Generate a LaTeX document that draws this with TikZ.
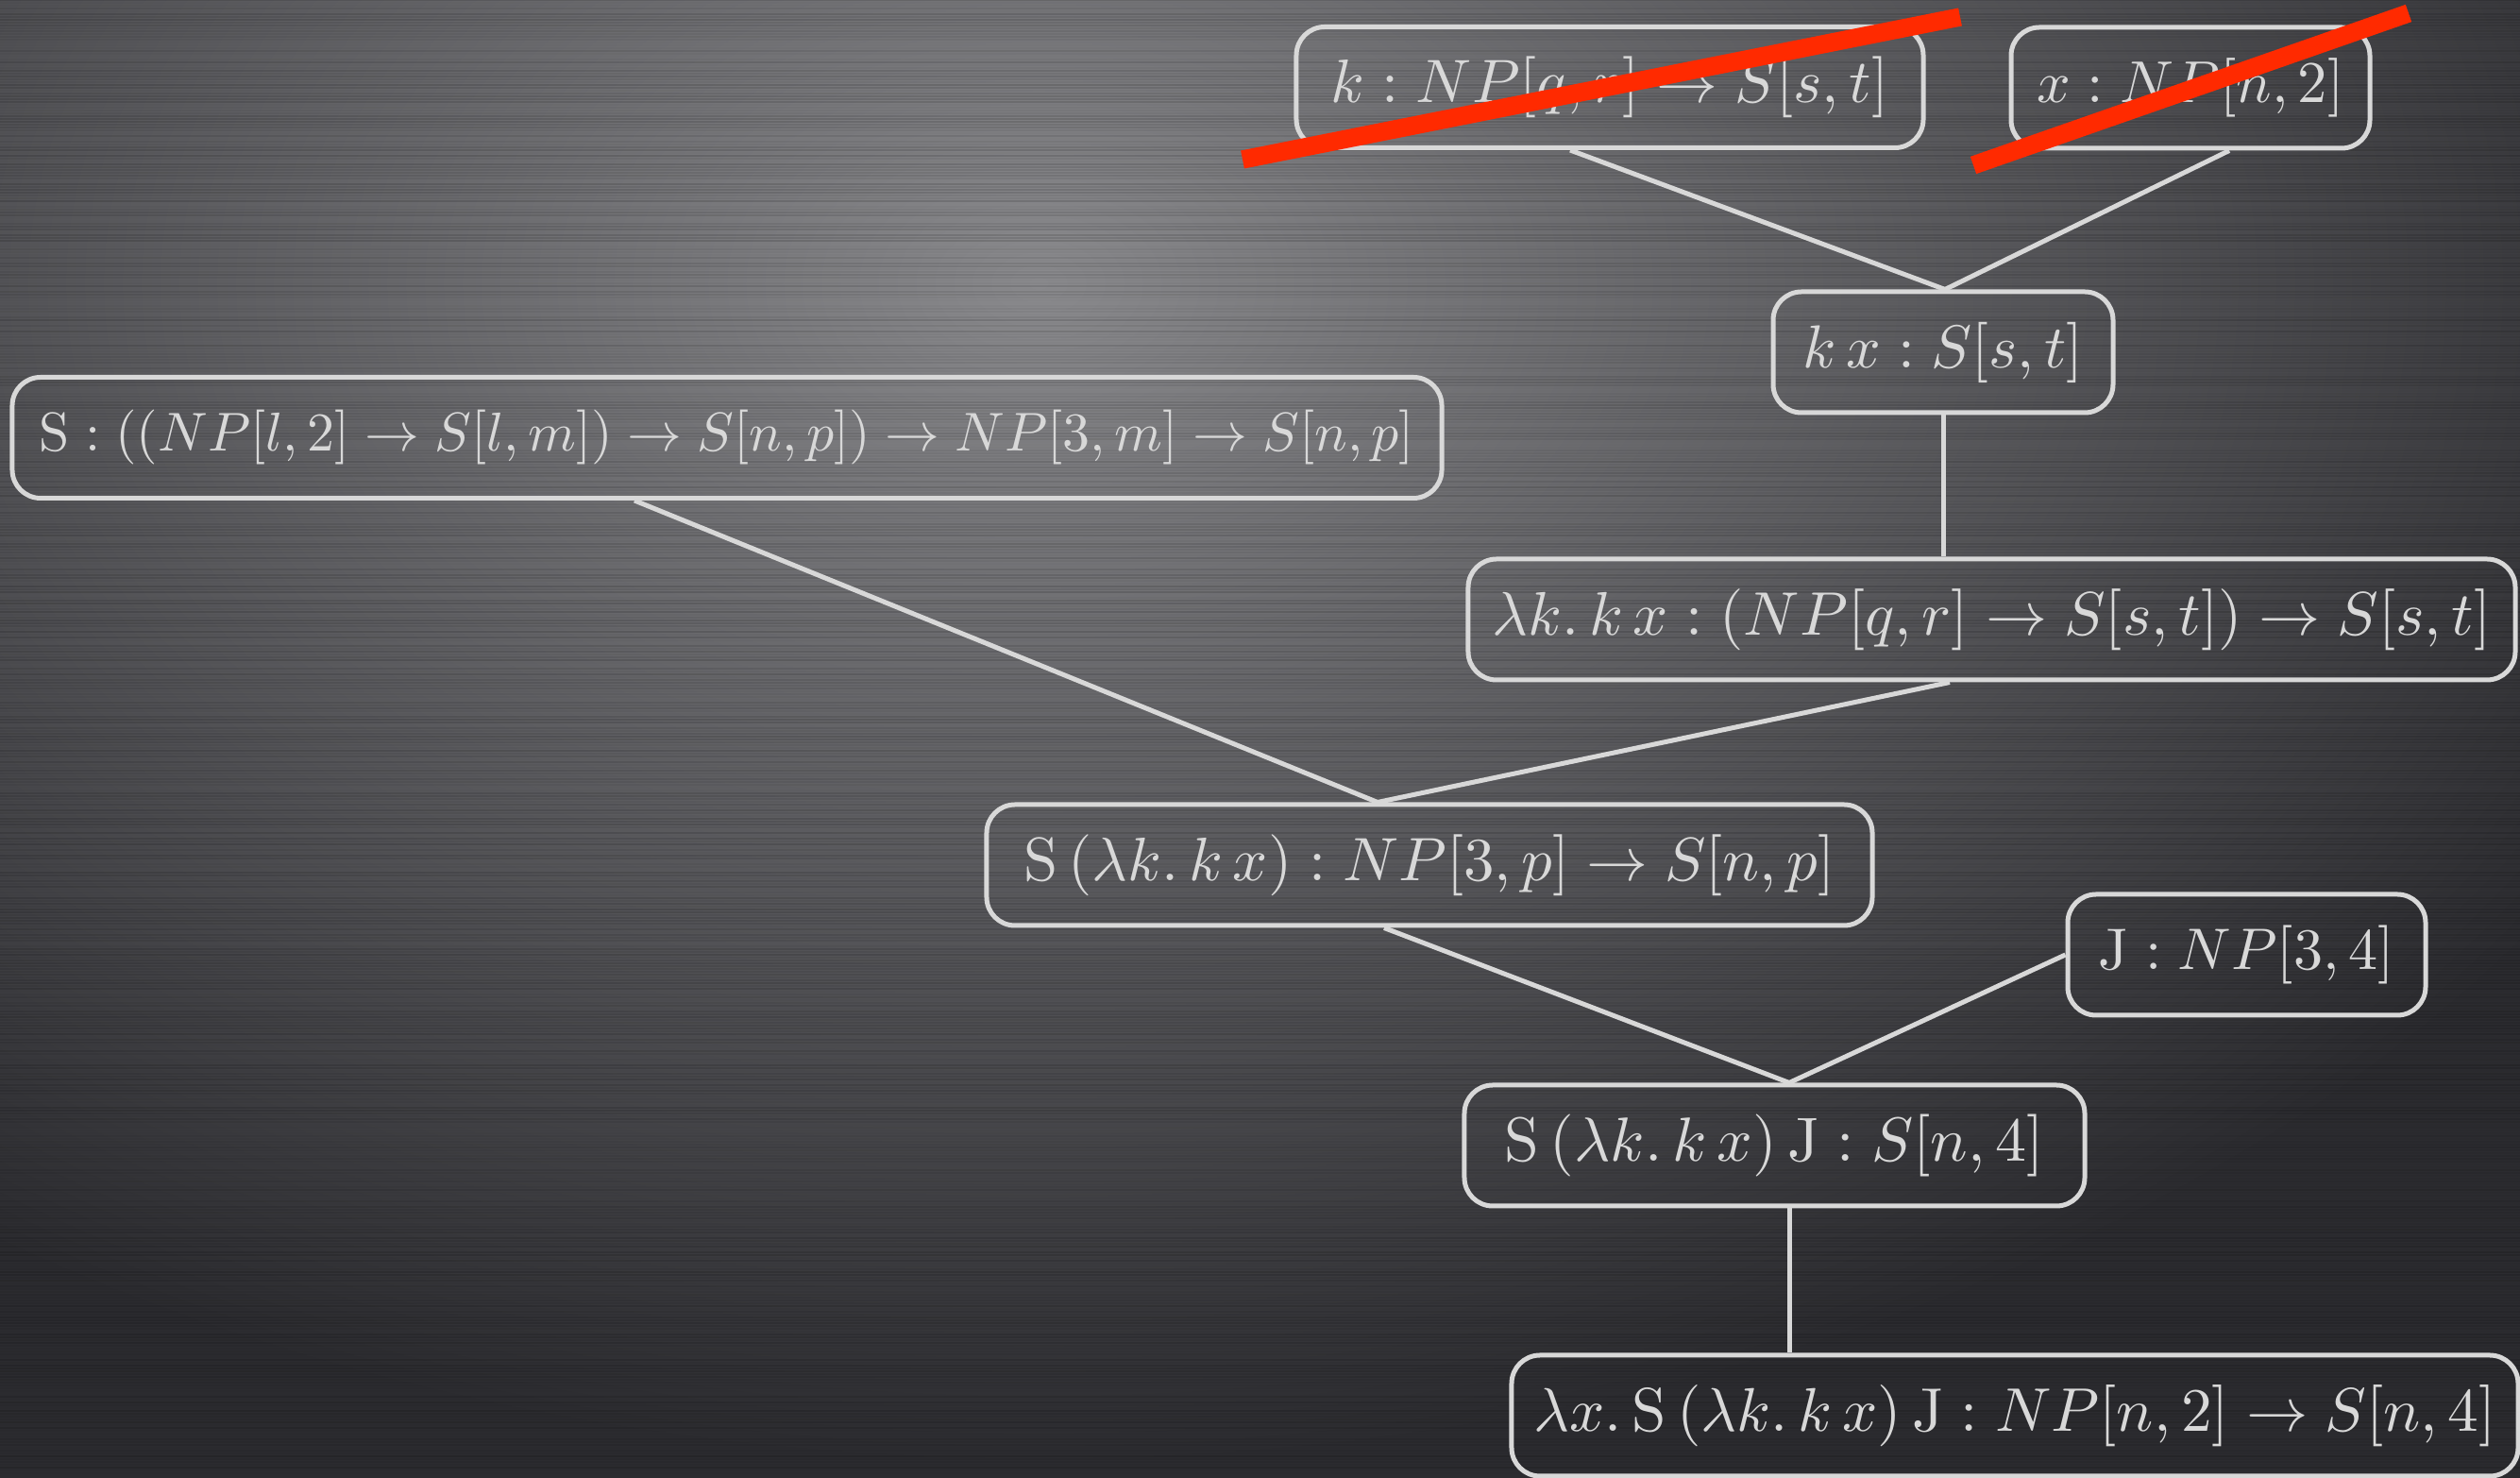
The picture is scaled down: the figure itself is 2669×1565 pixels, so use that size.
\documentclass[tikz,border=0pt]{standalone}
\usetikzlibrary{calc}
\usepackage{graphicx}
\definecolor{bgdark}{HTML}{2B2B2F}
\definecolor{bglight}{HTML}{8A8A8D}
\definecolor{fg}{HTML}{D8D8D8}
\definecolor{strike}{HTML}{FF2A00}
\newcommand\fitmath[2]{\resizebox{#1}{!}{$#2$}}
\begin{document}
\begin{tikzpicture}[x=0.15pt,y=-0.15pt,
  box/.style={draw=fg, text=fg, line width=0.75pt, rounded corners=4.5pt,
    inner xsep=0pt, inner ysep=0pt, minimum height=19.2pt},
  link/.style={draw=fg, line width=0.75pt},
  strikeout/.style={draw=strike, line width=2.9pt}]
\useasboundingbox (0,0) rectangle (2669,1565);
\fill[bgdark] (0,0) rectangle (2669,1565);
\begin{scope}
  \clip (0,0) rectangle (2669,1565);
  \shade[inner color=bglight, outer color=bgdark] (1100,300) ellipse [x radius=1900, y radius=1250];
  \pgfmathsetseed{7}
  \foreach \i in {0,...,520} {
    \pgfmathsetmacro\o{rnd*0.14}
    \draw[black, opacity=\o, line width=0.3pt] (0,3*\i) -- (2669,3*\i);
  }
\end{scope}

\node[box, minimum width=99.6pt]  (k)   at (1705,92.5)  {\fitmath{88.5pt}{k : NP[q,r] \to S[s,t]}};
\node[box, minimum width=57pt]    (nx)  at (2320,93)    {\fitmath{48.75pt}{x : NP[n,2]}};
\node[box, minimum width=54pt]    (kx)  at (2058,373)   {\fitmath{44.55pt}{k\,x : S[s,t]}};
\node[box, minimum width=227.1pt] (S)   at (770,463.5)  {\fitmath{218.4pt}{\mathrm{S} : ((NP[l,2] \to S[l,m]) \to S[n,p]) \to NP[3,m] \to S[n,p]}};
\node[box, minimum width=166.35pt] (lk) at (2109.5,656) {\fitmath{158.7pt}{\lambda k.\, k\,x : (NP[q,r] \to S[s,t]) \to S[s,t]}};
\node[box, minimum width=140.7pt] (Slk) at (1514,916)   {\fitmath{128.85pt}{\mathrm{S}\,(\lambda k.\, k\,x) : NP[3,p] \to S[n,p]}};
\node[box, minimum width=56.85pt] (J)   at (2379.5,1011) {\fitmath{46.95pt}{\mathrm{J} : NP[3,4]}};
\node[box, minimum width=98.55pt] (SJ)  at (1879.5,1213) {\fitmath{85.65pt}{\mathrm{S}\,(\lambda k.\, k\,x)\,\mathrm{J} : S[n,4]}};
\node[box, minimum width=159.9pt] (lx)  at (2134,1499)  {\fitmath{152.85pt}{\lambda x.\, \mathrm{S}\,(\lambda k.\, k\,x)\,\mathrm{J} : NP[n,2] \to S[n,4]}};

\draw[link] ($(k.south)+(-42,0)$) -- ($(kx.north)+(2,0)$);
\draw[link] ($(nx.south)+(41,0)$) -- ($(kx.north)+(2,0)$);
\draw[link] (kx.south) -- (kx.south |- lk.north);
\draw[link] ($(S.south)+(-98,0)$) -- ($(Slk.north)+(-55,0)$);
\draw[link] ($(lk.south)+(-44.5,0)$) -- ($(Slk.north)+(-55,0)$);
\draw[link] ($(Slk.south)+(-48,0)$) -- ($(SJ.north)+(15.5,0)$);
\draw[link] (J.west) -- ($(SJ.north)+(15.5,0)$);
\draw[link] ($(SJ.south)+(15.5,0)$) -- ($(lx.north)+(-239,0)$);

\draw[strikeout] (1316,169) -- (2076,18);
\draw[strikeout] (2090,175) -- (2551,14);
\end{tikzpicture}
\end{document}
